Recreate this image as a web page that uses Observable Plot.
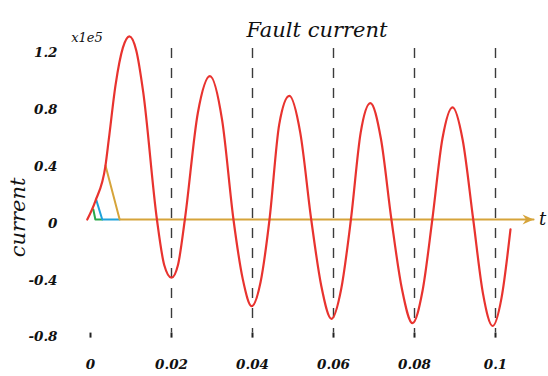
<!DOCTYPE html>
<html>
<head>
<meta charset="utf-8">
<script src="https://cdn.jsdelivr.net/npm/d3@7"></script>
<script src="https://cdn.jsdelivr.net/npm/@observablehq/plot@0.6"></script>
<style>
  body { margin: 0; background: #fff; }
</style>
</head>
<body>
<div id="chart"></div>
<script>
// Fault current i(t), in units of 1e5 A, sampled at peaks, troughs, zero crossings and flanks
const time = [-0.0008, 0.0012, 0.0037, 0.0045, 0.0062, 0.0080, 0.0096, 0.0113, 0.0130, 0.0164,
  0.0182, 0.0200, 0.0216, 0.0233, 0.0265, 0.0295, 0.0325, 0.0353, 0.0376, 0.0398,
  0.0420, 0.0442, 0.0466, 0.0491, 0.0518, 0.0545, 0.0570, 0.0595, 0.0619, 0.0643,
  0.0667, 0.0691, 0.0717, 0.0743, 0.0769, 0.0795, 0.0820, 0.0844, 0.0869, 0.0894,
  0.0919, 0.0945, 0.0969, 0.0993, 0.1015, 0.1037];
const current = [0.00, 0.13, 0.38, 0.56, 0.95, 1.21, 1.29, 1.19, 0.90, 0.00,
  -0.32, -0.41, -0.32, 0.00, 0.75, 1.01, 0.70, 0.00, -0.42, -0.61,
  -0.44, 0.00, 0.67, 0.87, 0.61, 0.00, -0.47, -0.70, -0.49, 0.00,
  0.61, 0.82, 0.57, 0.00, -0.49, -0.73, -0.50, 0.00, 0.57, 0.79,
  0.56, 0.00, -0.52, -0.75, -0.55, -0.07];

// Small phasor-like triangles at the start, and the time-axis arrow
const greenT = [0.0007, 0.0012, 0.0029];
const greenI = [0.07, 0, 0];
const blueT = [0.0014, 0.0029, 0.0072];
const blueI = [0.14, 0, 0];
const goldT = [0.0037, 0.0072, 0.1094];
const goldI = [0.38, 0, 0];

// Dashed markers at every cycle boundary
const cycleMarks = [0.02, 0.04, 0.06, 0.08, 0.1];

// Axis ticks
const xTicks = [0, 0.02, 0.04, 0.06, 0.08, 0.1];
const xTickLabels = ["0", "0.02", "0.04", "0.06", "0.08", "0.1"];
const yTicks = [-0.8, -0.4, 0, 0.4, 0.8, 1.2];
const yTickLabels = ["-0.8", "-0.4", "0", "0.4", "0.8", "1.2"];

const xLabel = new Map(xTicks.map((d, i) => [d, xTickLabels[i]]));
const yLabel = new Map(yTicks.map((d, i) => [d, yTickLabels[i]]));

const curveData = time.map((t, i) => ({t, i: current[i]}));
const pts = (ts, is) => ts.map((t, k) => ({t, i: is[k]}));

// Filled, notched arrowhead pointing right, tip at the anchor point
const arrowHead = {
  draw(ctx) {
    ctx.moveTo(0, 0);
    ctx.lineTo(-11, -5);
    ctx.lineTo(-7.5, 0);
    ctx.lineTo(-11, 5);
    ctx.closePath();
  }
};

const serif = "DejaVu Serif";
const gold = "#d6a43a";

const chart = Plot.plot({
  width: 548,
  height: 376,
  marginLeft: 90,
  marginRight: 53,
  marginTop: 48.6,
  marginBottom: 43.4,
  x: {domain: [0, 0.1]},
  y: {domain: [-0.8, 1.2]},
  marks: [
    Plot.ruleX(cycleMarks, {y1: 1.204, y2: -0.8, stroke: "#3a3a3a", strokeWidth: 1.4, strokeDasharray: "10,10"}),
    Plot.axisX(xTicks, {
      tickSize: 5, tickPadding: 21, stroke: "#222", strokeWidth: 2,
      tickFormat: d => xLabel.get(d), label: null,
      fontFamily: serif, fontSize: 13.5, fontStyle: "italic", fontWeight: "bold", fill: "#111"
    }),
    Plot.axisY(yTicks, {
      tickSize: 0, tickPadding: 33, dy: 4,
      tickFormat: d => yLabel.get(d), label: null,
      fontFamily: serif, fontSize: 13.5, fontStyle: "italic", fontWeight: "bold", fill: "#111"
    }),
    Plot.line(pts(greenT, greenI), {x: "t", y: "i", stroke: "#2aa84a", strokeWidth: 2}),
    Plot.line(pts(blueT, blueI), {x: "t", y: "i", stroke: "#1fa2da", strokeWidth: 2}),
    Plot.line(pts(goldT, goldI), {x: "t", y: "i", stroke: gold, strokeWidth: 2}),
    Plot.dot([{t: goldT[2], i: goldI[2]}], {x: "t", y: "i", symbol: arrowHead, fill: gold, stroke: "none"}),
    Plot.line(curveData, {x: "t", y: "i", stroke: "#e8332f", strokeWidth: 2.2, curve: "monotone-x"}),
    Plot.text(["t"], {x: goldT[2], y: 0, dx: 9, fontFamily: serif, fontStyle: "italic", fontSize: 18, fill: "#111"}),
    Plot.text(["Fault current"], {frameAnchor: "top", dx: 24, dy: -27, fontFamily: serif, fontStyle: "italic", fontSize: 21, fill: "#111"}),
    Plot.text(["x1e5"], {frameAnchor: "top-left", textAnchor: "middle", dx: -3.5, dy: -16.5, fontFamily: serif, fontStyle: "italic", fontSize: 13, fill: "#111"}),
    Plot.text(["current"], {x: -0.0178, y: 0.015, rotate: -90, fontFamily: serif, fontStyle: "italic", fontSize: 21, fill: "#111"})
  ]
});

document.getElementById("chart").appendChild(chart);
</script>
</body>
</html>
